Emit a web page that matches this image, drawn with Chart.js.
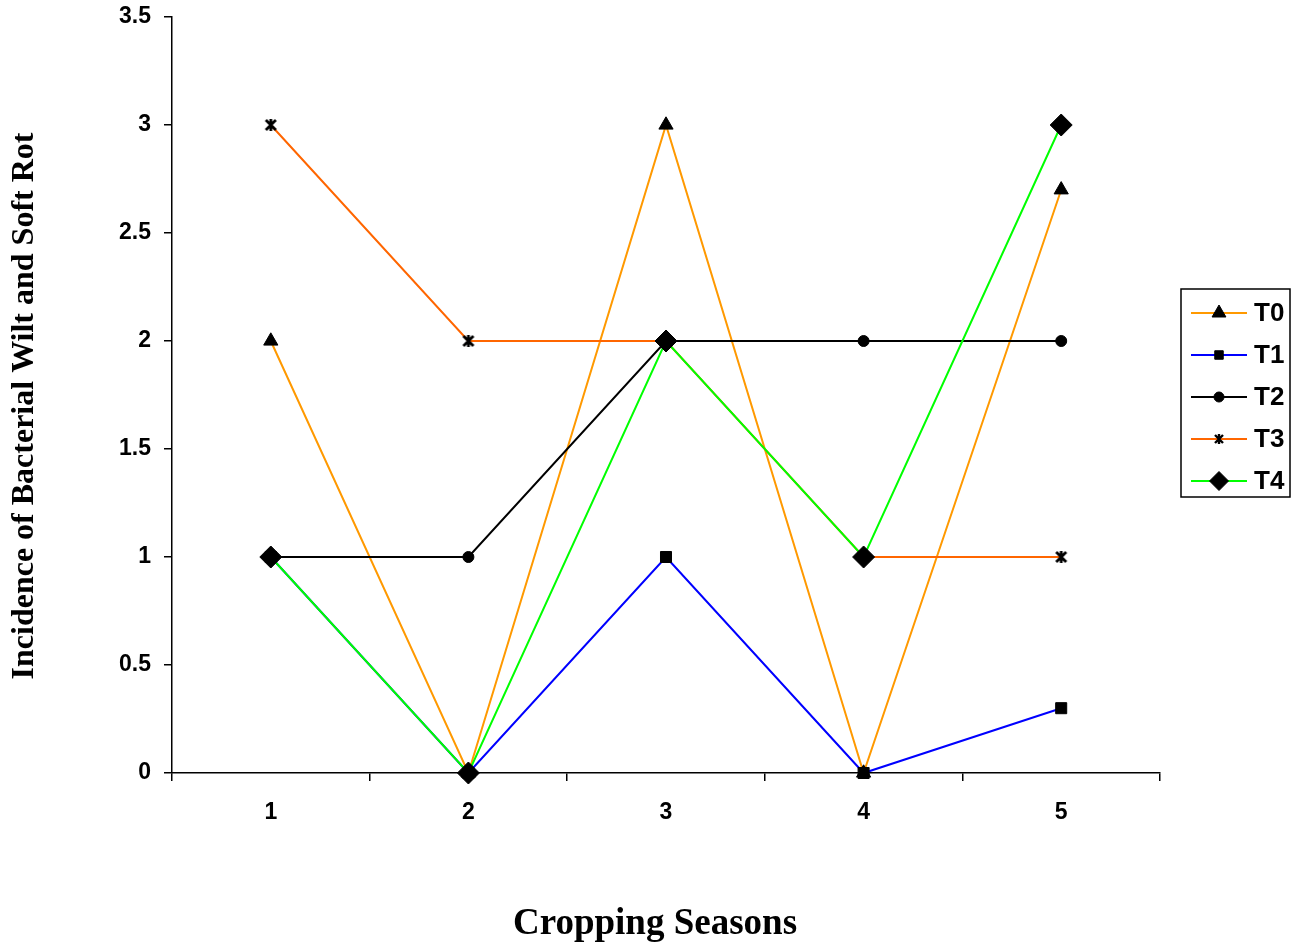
<!DOCTYPE html>
<html>
<head>
<meta charset="utf-8">
<script src="https://cdn.jsdelivr.net/npm/chart.js@4.4.1/dist/chart.umd.min.js"></script>
<style>
html,body{margin:0;padding:0;background:#fff;}
#wrap{width:1302px;height:946px;position:relative;}
</style>
</head>
<body>
<div id="wrap"><canvas id="c" width="1302" height="946"></canvas></div>
<script>
const categories = ['1', '2', '3', '4', '5'];
const seriesNames = ['T0', 'T1', 'T2', 'T3', 'T4'];
const t0 = [2, 0, 3, 0, 2.7];
const t1 = [1, 0, 1, 0, 0.3];
const t2 = [1, 1, 2, 2, 2];
const t3 = [3, 2, 2, 1, 1];
const t4 = [1, 0, 2, 1, 3];
const yTicks = [0, 0.5, 1, 1.5, 2, 2.5, 3, 3.5];
const xTitle = 'Cropping Seasons';
const yTitle = 'Incidence of Bacterial Wilt and Soft Rot';

// Excel-style asterisk marker (X + vertical bar)
function starMarker(size, lw) {
  const c = document.createElement('canvas');
  c.width = size; c.height = size;
  const g = c.getContext('2d');
  g.strokeStyle = '#000'; g.lineWidth = lw;
  const m = 2, s = size - 2;
  g.beginPath();
  g.moveTo(m, m); g.lineTo(s, s);
  g.moveTo(s, m); g.lineTo(m, s);
  g.moveTo(size / 2, m - 1); g.lineTo(size / 2, s + 1);
  g.stroke();
  return c;
}
const star = starMarker(14, 2.8);
const starSmall = starMarker(12, 2.4);

const styles = [
  {color: '#FF9900', pointStyle: 'triangle', radius: 8.2, legendStyle: 'triangle', legendRadius: 8},
  {color: '#0000FF', pointStyle: 'rect', radius: 7.8, legendStyle: 'rect', legendRadius: 6},
  {color: '#000000', pointStyle: 'circle', radius: 5.5, legendStyle: 'circle', legendRadius: 5},
  {color: '#FF6600', pointStyle: star, radius: 6, legendStyle: starSmall, legendRadius: 5},
  {color: '#00FF00', pointStyle: 'rectRot', radius: 11, legendStyle: 'rectRot', legendRadius: 9.5}
];
const values = [t0, t1, t2, t3, t4];

const datasets = values.map((v, i) => ({
  label: seriesNames[i],
  data: v,
  borderColor: styles[i].color,
  backgroundColor: '#000',
  borderWidth: 2,
  pointStyle: styles[i].pointStyle,
  pointRadius: styles[i].radius,
  pointHoverRadius: styles[i].radius,
  pointBackgroundColor: '#000',
  pointBorderColor: '#000',
  pointBorderWidth: 1,
  tension: 0,
  fill: false,
  clip: false,
  order: values.length - 1 - i
}));

const customDraw = {
  id: 'customDraw',
  afterDraw(chart) {
    const ctx = chart.ctx;
    const ca = chart.chartArea;
    ctx.save();
    // axis titles
    ctx.fillStyle = '#000';
    ctx.textAlign = 'center';
    ctx.textBaseline = 'middle';
    ctx.font = 'bold 37px "Liberation Serif", "Times New Roman", serif';
    ctx.fillText(xTitle, 655, 924);
    ctx.save();
    ctx.translate(25, 406);
    ctx.rotate(-Math.PI / 2);
    ctx.font = 'bold 32px "Liberation Serif", "Times New Roman", serif';
    ctx.fillText(yTitle, 0, 0);
    ctx.restore();
    // legend
    const x0 = ca.right + 21, w = 109, h = 208;
    const y0 = 289;
    ctx.strokeStyle = '#000';
    ctx.lineWidth = 1.5;
    ctx.strokeRect(x0, y0, w, h);
    chart.data.datasets.forEach((ds, i) => {
      const y = y0 + 24 + i * 42;
      ctx.strokeStyle = ds.borderColor;
      ctx.lineWidth = 2;
      ctx.beginPath();
      ctx.moveTo(x0 + 10, y); ctx.lineTo(x0 + 66, y);
      ctx.stroke();
      ctx.fillStyle = '#000';
      ctx.strokeStyle = '#000';
      ctx.lineWidth = 1;
      Chart.helpers.drawPoint(ctx, {pointStyle: styles[i].legendStyle, radius: styles[i].legendRadius, rotation: 0, borderWidth: 1}, x0 + 38, y);
      ctx.fillStyle = '#000';
      ctx.font = 'bold 26px "Liberation Sans", Arial, sans-serif';
      ctx.textBaseline = 'middle';
      ctx.textAlign = 'left';
      ctx.fillText(ds.label, x0 + 73, y + 1);
    });
    ctx.restore();
  }
};

const tickFont = {family: '"Liberation Sans", Arial, sans-serif', size: 23, weight: 'bold'};

new Chart(document.getElementById('c'), {
  type: 'line',
  data: {labels: categories, datasets: datasets},
  options: {
    responsive: false,
    animation: false,
    events: [],
    layout: {padding: {left: 0, right: 142, top: 17, bottom: 0}},
    plugins: {legend: {display: false}, tooltip: {enabled: false}},
    scales: {
      x: {
        type: 'category',
        offset: true,
        grid: {display: true, drawOnChartArea: false, offset: true, tickLength: 8, color: '#000', lineWidth: 1.5},
        border: {display: true, color: '#000', width: 1.5},
        ticks: {color: '#000', padding: 18, font: tickFont},
        afterFit(scale) { scale.height = 173; scale.paddingLeft = 0; scale.paddingRight = 0; }
      },
      y: {
        min: 0, max: 3.5,
        afterBuildTicks(scale) { scale.ticks = yTicks.map(v => ({value: v})); },
        grid: {display: true, drawOnChartArea: false, tickLength: 8, color: '#000', lineWidth: 1.5},
        border: {display: true, color: '#000', width: 1.5},
        ticks: {color: '#000', padding: 13, font: tickFont, callback: (v) => String(v)},
        afterFit(scale) { scale.width = 172; scale.paddingTop = 0; scale.paddingBottom = 0; }
      }
    }
  },
  plugins: [customDraw]
});
</script>
</body>
</html>
